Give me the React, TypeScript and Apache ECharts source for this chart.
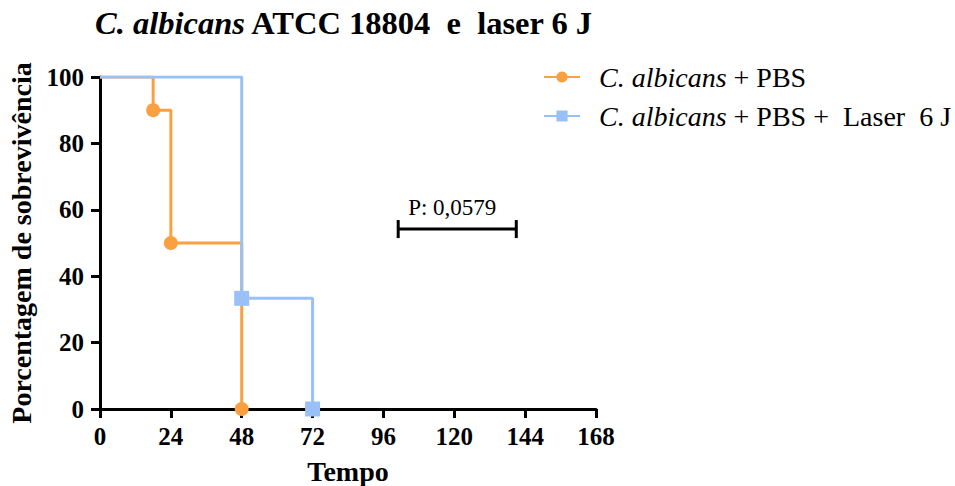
import React, { useEffect, useRef } from "react";
import * as echarts from "echarts";

const xTicks = [0, 24, 48, 72, 96, 120, 144, 168];
const yTicks = [0, 20, 40, 60, 80, 100];
const pbsTimes = [0, 18, 24, 48];
const pbsSurvival = [100, 90, 50, 0];
const laserTimes = [0, 48, 72];
const laserSurvival = [100, 33.33, 0];
const seriesNames = ["C. albicans + PBS", "C. albicans + PBS +  Laser  6 J"];
const pBar = [[101, 141, 54.2]];
const pLabel = "P: 0,0579";

const ORANGE = "#FBA040";
const BLUE = "#99C1F7";
const FONT = "Liberation Serif";

function toData(times: number[], vals: number[]) {
  return times.map((t, i) => ({
    value: [t, vals[i]],
    symbol: i === 0 ? "none" : undefined,
  }));
}

export default function App() {
  const ref = useRef<HTMLDivElement>(null);
  useEffect(() => {
    if (!ref.current) return;
    const chart = echarts.init(ref.current, null, { renderer: "svg" });
    chart.setOption({
      animation: false,
      backgroundColor: "#fff",
      title: {
        text: "{i|C. albicans} ATCC 18804  e  laser 6 J",
        left: 95,
        top: 6,
        padding: 0,
        textStyle: {
          fontFamily: FONT,
          fontWeight: "bold",
          fontSize: 32.5,
          color: "#000",
          rich: {
            i: { fontFamily: FONT, fontWeight: "bold", fontStyle: "italic", fontSize: 32.5, color: "#000" },
          },
        },
      },
      legend: {
        left: 543,
        top: 63,
        padding: 0,
        orient: "vertical",
        itemWidth: 36,
        itemHeight: 14,
        itemGap: 11,
        data: seriesNames,
        formatter: (name: string) => name.replace("C. albicans", "{i|C. albicans}"),
        textStyle: {
          fontFamily: FONT,
          fontSize: 28,
          color: "#000",
          lineHeight: 28,
          padding: [0, 0, 0, 14],
          rich: {
            i: { fontFamily: FONT, fontStyle: "italic", fontSize: 28, color: "#000" },
          },
        },
      },
      grid: { left: 100, right: 359, top: 77, bottom: 77, containLabel: false, outerBoundsMode: "none" },
      xAxis: {
        type: "value",
        min: 0,
        max: 168,
        interval: 24,
        name: "Tempo",
        nameLocation: "middle",
        nameGap: 48,
        nameTextStyle: { fontFamily: FONT, fontWeight: "bold", fontSize: 28, color: "#000" },
        axisLine: { lineStyle: { color: "#000", width: 3 } },
        axisTick: { length: 9, lineStyle: { color: "#000", width: 3 } },
        splitLine: { show: false },
        axisLabel: {
          margin: 15,
          fontFamily: FONT,
          fontWeight: "bold",
          fontSize: 25,
          color: "#000",
          formatter: (v: number) => (xTicks.includes(v) ? String(v) : ""),
        },
      },
      yAxis: {
        type: "value",
        min: 0,
        max: 100,
        interval: 20,
        name: "Porcentagem de sobrevivência",
        nameLocation: "middle",
        nameGap: 64,
        nameTextStyle: { fontFamily: FONT, fontWeight: "bold", fontSize: 28, color: "#000" },
        axisLine: { lineStyle: { color: "#000", width: 3 } },
        axisTick: { length: 9, lineStyle: { color: "#000", width: 3 } },
        splitLine: { show: false },
        axisLabel: {
          margin: 16,
          fontFamily: FONT,
          fontWeight: "bold",
          fontSize: 25,
          color: "#000",
          formatter: (v: number) => (yTicks.includes(v) ? String(v) : ""),
        },
      },
      series: [
        {
          name: seriesNames[0],
          type: "line",
          step: "end",
          data: toData(pbsTimes, pbsSurvival),
          symbol: "circle",
          symbolSize: 14,
          showAllSymbol: true,
          color: ORANGE,
          lineStyle: { color: ORANGE, width: 3 },
          itemStyle: { color: ORANGE },
          z: 2,
        },
        {
          name: seriesNames[1],
          type: "line",
          step: "end",
          data: toData(laserTimes, laserSurvival),
          symbol: "rect",
          symbolSize: 15,
          showAllSymbol: true,
          color: BLUE,
          lineStyle: { color: BLUE, width: 3 },
          itemStyle: { color: BLUE },
          z: 3,
        },
        {
          type: "custom",
          data: pBar,
          silent: true,
          z: 4,
          renderItem: (params: any, api: any) => {
            const p1 = api.coord([api.value(0), api.value(2)]);
            const p2 = api.coord([api.value(1), api.value(2)]);
            const cap = 9;
            const style = { stroke: "#000", lineWidth: 3 };
            return {
              type: "group",
              children: [
                { type: "line", shape: { x1: p1[0], y1: p1[1], x2: p2[0], y2: p2[1] }, style },
                { type: "line", shape: { x1: p1[0], y1: p1[1] - cap, x2: p1[0], y2: p1[1] + cap }, style },
                { type: "line", shape: { x1: p2[0], y1: p2[1] - cap, x2: p2[0], y2: p2[1] + cap }, style },
                {
                  type: "text",
                  style: {
                    text: pLabel,
                    x: (p1[0] + p2[0]) / 2 - 5,
                    y: p1[1] - 10,
                    align: "center",
                    verticalAlign: "bottom",
                    font: `23px "${FONT}"`,
                    fill: "#000",
                  },
                },
              ],
            };
          },
        },
      ],
    });
    return () => chart.dispose();
  }, []);
  return <div ref={ref} style={{ width: 955, height: 486, position: "absolute", left: 0, top: 0 }} />;
}
